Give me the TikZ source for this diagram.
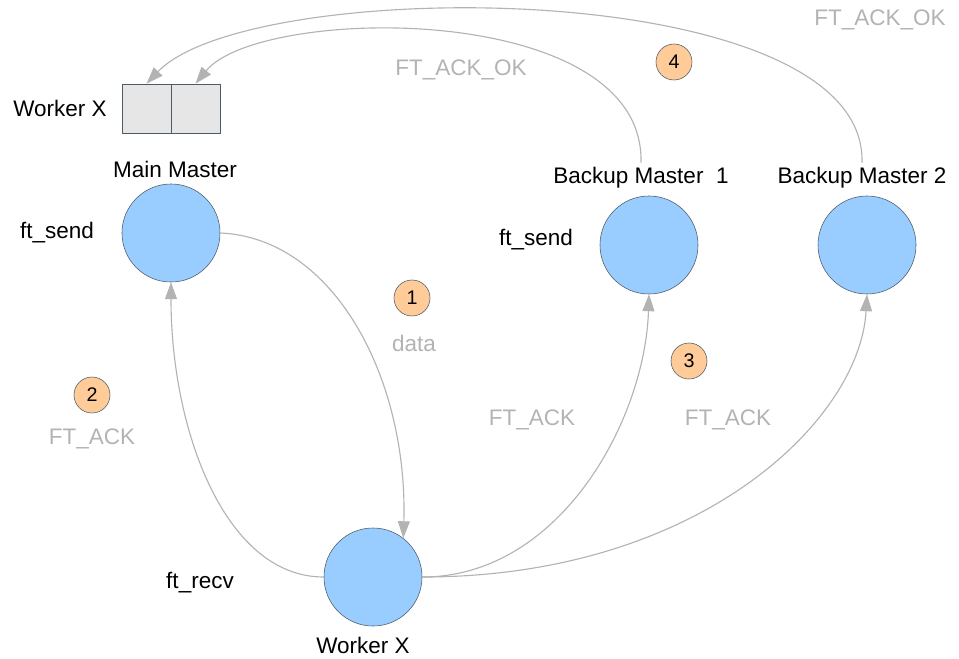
\documentclass[tikz,border=0pt]{standalone}
\usepackage{fontspec}
\setmainfont{Liberation Sans}
\usetikzlibrary{arrows.meta}

\definecolor{nodeblue}{HTML}{99CCFF}
\definecolor{nodeline}{HTML}{4D5B66}
\definecolor{badge}{HTML}{FFCC99}
\definecolor{edgegray}{HTML}{B3B3B3}
\definecolor{cellgray}{HTML}{E6E6E6}

\tikzset{
	proc/.style={circle, draw=nodeline, fill=nodeblue, minimum size=2.45cm, inner sep=0pt},
	badgenode/.style={circle, draw=nodeline, fill=badge, minimum size=0.9cm, inner sep=0pt, font=\fontsize{14}{16}\selectfont},
	cell/.style={rectangle, draw=nodeline, fill=cellgray, minimum width=1.225cm, minimum height=1.225cm, inner sep=0pt},
	txt/.style={font=\fontsize{16}{18}\selectfont},
	msg/.style={font=\fontsize{16}{18}\selectfont, text=edgegray},
	flow/.style={draw=edgegray, line width=0.8pt, -{Triangle[length=12pt, width=8.5pt]}}
}

\begin{document}
\begin{tikzpicture}[x=0.025cm, y=-0.025cm]

	\useasboundingbox (0,0) rectangle (959,658);

	% buffer of the worker
	\node[cell] (cellA) at (146.5,108.5) {};
	\node[cell] (cellB) at (195.5,108.5) {};
	\node[txt] (buflabel) at (60,108) {Worker X};

	% masters and worker
	\node[proc] (mm) at (171,233) {};
	\node[txt] (mmlabel) at (175,169) {Main Master};
	\node[txt] at (57,233) {ft\_send};

	\node[proc] (bm1) at (649,245) {};
	\node[txt] (bm1label) at (641,178) {Backup Master\ \ 1};
	\node[txt] at (536,240) {ft\_send};

	\node[proc] (bm2) at (867,245) {};
	\node[txt] (bm2label) at (862,178) {Backup Master 2};

	\node[proc] (wx) at (373,577) {};
	\node[txt] (wxlabel) at (363,645) {Worker X};
	\node[txt] at (200,583) {ft\_recv};

	% steps
	\node[badgenode] (b1) at (412,298) {1};
	\node[badgenode] (b2) at (92,395) {2};
	\node[badgenode] (b3) at (689,361) {3};
	\node[badgenode] (b4) at (674,62) {4};

	\node[msg] at (414,343) {data};
	\node[msg] at (92,439) {FT\_ACK};
	\node[msg] at (532,420) {FT\_ACK};
	\node[msg] at (728,420) {FT\_ACK};
	\node[msg] at (461,70) {FT\_ACK\_OK};
	\node[msg] at (880,20) {FT\_ACK\_OK};

	% messages
	\draw[flow] (mm.east) .. controls (335,238) and (408,380) .. (wx.52);
	\draw[flow] (wx.west) .. controls (225,577) and (171,430) .. (mm.south);
	\draw[flow] (wx.east) .. controls (560,577) and (645,420) .. (bm1.south);
	\draw[flow] (wx.east) .. controls (700,577) and (860,420) .. (bm2.south);
	\draw[flow] (bm1label.north) .. controls (645,0) and (260,5) .. (cellB.north);
	\draw[flow] (bm2label.north) .. controls (867,-25) and (250,-25) .. (cellA.north);

\end{tikzpicture}
\end{document}
